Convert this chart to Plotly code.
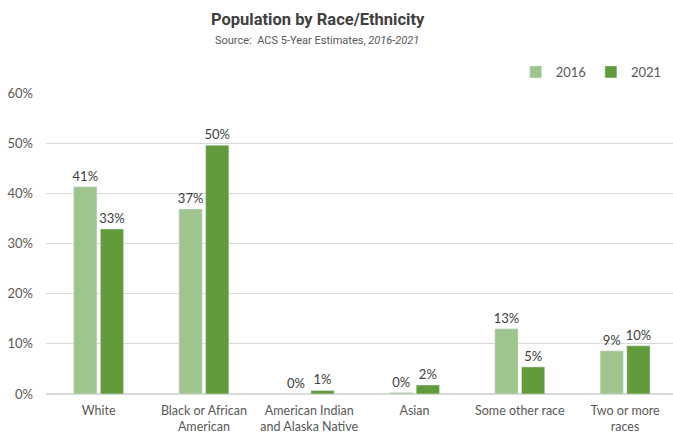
import plotly.graph_objects as go

categories = ["White", "Black or African<br>American", "American Indian<br>and Alaska Native",
              "Asian", "Some other race", "Two or more<br>races"]
v2016 = [0.413, 0.369, 0.001, 0.003, 0.130, 0.086]
v2021 = [0.329, 0.496, 0.007, 0.018, 0.054, 0.096]
tickvals = [0, 0.1, 0.2, 0.3, 0.4, 0.5, 0.6]

FONT = "Lato"
fig = go.Figure()
fig.add_bar(x=categories, y=v2016, name="2016", marker_color="#A0C48E",
            texttemplate="%{y:.0%}", textposition="outside", cliponaxis=False,
            constraintext="none",
            textfont=dict(family=FONT, size=13, color="#404040"))
fig.add_bar(x=categories, y=v2021, name="2021", marker_color="#619B3C",
            texttemplate="%{y:.0%}", textposition="outside", cliponaxis=False,
            constraintext="none",
            textfont=dict(family=FONT, size=13, color="#404040"))

fig.update_layout(
    width=673, height=434,
    margin=dict(l=46, r=0, t=93, b=40, autoexpand=False),
    paper_bgcolor="white", plot_bgcolor="white",
    barmode="group", bargap=0.494, bargroupgap=0.126,
    font=dict(family=FONT, size=13, color="#595959"),
    title=dict(text="<b>Population by Race/Ethnicity</b>", x=0.472, xanchor="center",
               y=0.955, yanchor="middle", yref="container",
               font=dict(family="Roboto", size=16.5, color="#404040")),
    legend=dict(orientation="h", x=0.99, xanchor="right", y=1.07, yanchor="middle",
                font=dict(family=FONT, size=13, color="#595959"), traceorder="normal",
                itemwidth=30),
    showlegend=True,
)
fig.add_annotation(text="Source:  ACS 5-Year Estimates, <i>2016-2021</i>", xref="paper", yref="paper",
                   x=0.432, y=1.176, xanchor="center", yanchor="middle", showarrow=False,
                   font=dict(family="Roboto", size=11, color="#595959"))
fig.update_yaxes(range=[0, 0.6], tickvals=tickvals, tickformat=".0%", showgrid=True,
                 gridcolor="#D9D9D9", zeroline=True, zerolinecolor="#D9D9D9", showline=False,
                 ticks="", ticklabelstandoff=12, automargin=False)
fig.update_xaxes(range=[-0.5, 5.455], showline=True, linecolor="#D9D9D9", ticks="", tickangle=0,
                 ticklabelstandoff=5, automargin=False, tickfont=dict(size=12.5))

fig.write_html("out.html")
